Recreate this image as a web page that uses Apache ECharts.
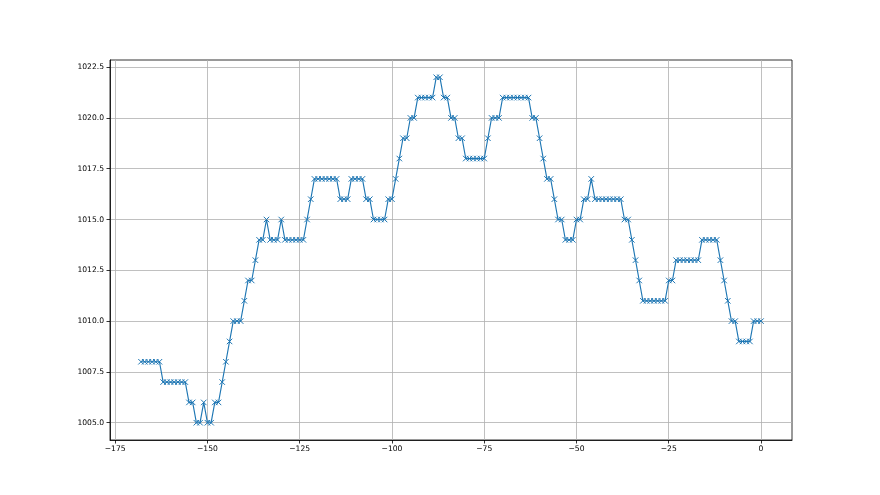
<!DOCTYPE html>
<html><head><meta charset="utf-8">
<script src="https://cdn.jsdelivr.net/npm/echarts@6/dist/echarts.min.js"></script>
<style>html,body{margin:0;padding:0;background:#fff}#c{width:880px;height:495px}</style>
</head><body><div id="c"></div>
<script>
const hours = [
 -168,-167,-166,-165,-164,-163,-162,-161,-160,-159,
 -158,-157,-156,-155,-154,-153,-152,-151,-150,-149,
 -148,-147,-146,-145,-144,-143,-142,-141,-140,-139,
 -138,-137,-136,-135,-134,-133,-132,-131,-130,-129,
 -128,-127,-126,-125,-124,-123,-122,-121,-120,-119,
 -118,-117,-116,-115,-114,-113,-112,-111,-110,-109,
 -108,-107,-106,-105,-104,-103,-102,-101,-100,-99,
 -98,-97,-96,-95,-94,-93,-92,-91,-90,-89,
 -88,-87,-86,-85,-84,-83,-82,-81,-80,-79,
 -78,-77,-76,-75,-74,-73,-72,-71,-70,-69,
 -68,-67,-66,-65,-64,-63,-62,-61,-60,-59,
 -58,-57,-56,-55,-54,-53,-52,-51,-50,-49,
 -48,-47,-46,-45,-44,-43,-42,-41,-40,-39,
 -38,-37,-36,-35,-34,-33,-32,-31,-30,-29,
 -28,-27,-26,-25,-24,-23,-22,-21,-20,-19,
 -18,-17,-16,-15,-14,-13,-12,-11,-10,-9,
 -8,-7,-6,-5,-4,-3,-2,-1,0
];
const pressure = [
 1008,1008,1008,1008,1008,1008,1007,1007,1007,1007,
 1007,1007,1007,1006,1006,1005,1005,1006,1005,1005,
 1006,1006,1007,1008,1009,1010,1010,1010,1011,1012,
 1012,1013,1014,1014,1015,1014,1014,1014,1015,1014,
 1014,1014,1014,1014,1014,1015,1016,1017,1017,1017,
 1017,1017,1017,1017,1016,1016,1016,1017,1017,1017,
 1017,1016,1016,1015,1015,1015,1015,1016,1016,1017,
 1018,1019,1019,1020,1020,1021,1021,1021,1021,1021,
 1022,1022,1021,1021,1020,1020,1019,1019,1018,1018,
 1018,1018,1018,1018,1019,1020,1020,1020,1021,1021,
 1021,1021,1021,1021,1021,1021,1020,1020,1019,1018,
 1017,1017,1016,1015,1015,1014,1014,1014,1015,1015,
 1016,1016,1017,1016,1016,1016,1016,1016,1016,1016,
 1016,1015,1015,1014,1013,1012,1011,1011,1011,1011,
 1011,1011,1011,1012,1012,1013,1013,1013,1013,1013,
 1013,1013,1014,1014,1014,1014,1014,1013,1012,1011,
 1010,1010,1009,1009,1009,1009,1010,1010,1010
];
const xTicks = [-175, -150, -125, -100, -75, -50, -25, 0];
const yTicks = [1005, 1007.5, 1010, 1012.5, 1015, 1017.5, 1020, 1022.5];

const chart = echarts.init(document.getElementById('c'), null, {renderer: 'canvas'});
const font = {fontFamily: 'DejaVu Sans', fontSize: 7.6, color: '#000'};
const gridLine = {show: true, lineStyle: {color: '#b0b0b0', width: 0.8}};
chart.setOption({
  animation: false,
  backgroundColor: '#fff',
  grid: {left: 110, top: 60, width: 682, height: 380, show: true,
         borderColor: '#000', borderWidth: 0.8, backgroundColor: 'rgba(0,0,0,0)'},
  xAxis: {
    type: 'value', min: -176.4, max: 8.4,
    axisLine: {show: true, onZero: false, lineStyle: {color: '#000', width: 0.8}},
    axisTick: {show: true, length: 3.5, customValues: xTicks, lineStyle: {color: '#000', width: 0.8}},
    axisLabel: Object.assign({customValues: xTicks, margin: 5,
      formatter: v => v < 0 ? '\u2212' + Math.abs(v) : String(v)}, font),
    splitLine: gridLine
  },
  yAxis: {
    type: 'value', min: 1004.15, max: 1022.85,
    axisLine: {show: true, onZero: false, lineStyle: {color: '#000', width: 0.8}},
    axisTick: {show: true, length: 3.5, customValues: yTicks, lineStyle: {color: '#000', width: 0.8}},
    axisLabel: Object.assign({customValues: yTicks, margin: 6,
      formatter: v => v.toFixed(1)}, font),
    splitLine: gridLine
  },
  series: [{
    type: 'line',
    data: hours.map((h, i) => [h, pressure[i]]),
    symbol: 'path://M0,0L10,10M10,0L0,10',
    symbolSize: 5.5,
    showAllSymbol: true,
    lineStyle: {color: '#1f77b4', width: 1.15},
    itemStyle: {color: 'rgba(0,0,0,0)', borderColor: '#1f77b4', borderWidth: 1},
    emphasis: {disabled: true}
  }]
});
</script>
</body></html>
